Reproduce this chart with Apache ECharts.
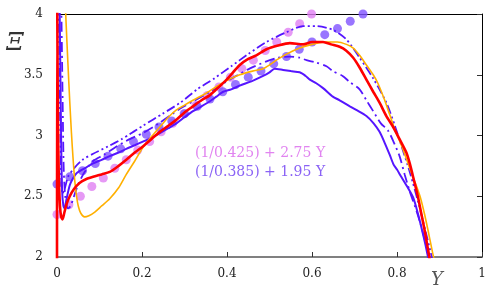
<!DOCTYPE html>
<html>
<head>
<meta charset="utf-8">
<script src="https://cdn.jsdelivr.net/npm/echarts@6/dist/echarts.min.js"></script>
<style>html,body{margin:0;padding:0;background:#fff}#c{width:498px;height:295px}</style>
</head>
<body>
<div id="c"></div>
<script>
var xTicks = [0, 0.2, 0.4, 0.6, 0.8, 1];
var yTicks = [2, 2.5, 3, 3.5, 4];

var redLine = [[0,1.9],[0.0005,4.1],[0.002,3.2],[0.004,2.7],[0.007,2.42],[0.010,2.33],[0.013,2.31],[0.017,2.36],[0.022,2.43],[0.030,2.5],[0.040,2.56],[0.053,2.61],[0.068,2.64],[0.085,2.66],[0.105,2.68],[0.124,2.70],[0.145,2.75],[0.163,2.80],[0.183,2.86],[0.202,2.91],[0.222,2.97],[0.242,3.03],[0.262,3.08],[0.281,3.13],[0.30,3.19],[0.32,3.24],[0.34,3.29],[0.359,3.33],[0.375,3.38],[0.399,3.46],[0.43,3.58],[0.45,3.63],[0.469,3.66],[0.493,3.71],[0.52,3.74],[0.548,3.76],[0.579,3.75],[0.60,3.77],[0.626,3.77],[0.645,3.75],[0.665,3.73],[0.68,3.70],[0.697,3.64],[0.712,3.56],[0.728,3.46],[0.744,3.36],[0.759,3.27],[0.775,3.16],[0.791,3.07],[0.806,2.97],[0.822,2.86],[0.830,2.77],[0.840,2.63],[0.849,2.50],[0.857,2.36],[0.865,2.22],[0.871,2.10],[0.876,2.0],[0.879,1.9]];

var orangeLine = [[0.0195,4.1],[0.0205,4.0],[0.023,3.8],[0.026,3.57],[0.030,3.28],[0.034,3.02],[0.038,2.8],[0.042,2.62],[0.046,2.5],[0.050,2.42],[0.056,2.36],[0.065,2.33],[0.075,2.34],[0.089,2.37],[0.105,2.42],[0.124,2.48],[0.145,2.57],[0.163,2.68],[0.183,2.79],[0.202,2.90],[0.222,2.99],[0.242,3.07],[0.262,3.15],[0.281,3.21],[0.30,3.25],[0.32,3.29],[0.352,3.35],[0.383,3.42],[0.41,3.47],[0.43,3.50],[0.46,3.53],[0.485,3.55],[0.50,3.58],[0.516,3.62],[0.54,3.67],[0.571,3.72],[0.60,3.75],[0.634,3.77],[0.66,3.77],[0.681,3.75],[0.697,3.72],[0.712,3.66],[0.728,3.58],[0.744,3.50],[0.755,3.43],[0.77,3.30],[0.783,3.17],[0.795,3.05],[0.808,2.94],[0.820,2.83],[0.832,2.71],[0.844,2.60],[0.855,2.49],[0.865,2.35],[0.873,2.22],[0.880,2.10],[0.886,2.0],[0.89,1.95]];

var blueSolid = [[0.006,4.1],[0.008,3.5],[0.010,2.9],[0.012,2.55],[0.015,2.42],[0.018,2.4],[0.022,2.47],[0.030,2.59],[0.038,2.65],[0.046,2.69],[0.065,2.73],[0.085,2.77],[0.105,2.80],[0.124,2.83],[0.145,2.86],[0.163,2.89],[0.183,2.92],[0.202,2.95],[0.222,2.98],[0.242,3.02],[0.262,3.06],[0.281,3.10],[0.30,3.15],[0.32,3.20],[0.34,3.24],[0.359,3.28],[0.375,3.32],[0.391,3.36],[0.41,3.38],[0.43,3.41],[0.46,3.45],[0.485,3.49],[0.50,3.52],[0.512,3.55],[0.532,3.54],[0.55,3.53],[0.571,3.52],[0.585,3.49],[0.595,3.46],[0.61,3.43],[0.626,3.39],[0.649,3.32],[0.665,3.29],[0.689,3.24],[0.704,3.21],[0.728,3.16],[0.745,3.10],[0.759,3.03],[0.771,2.94],[0.783,2.84],[0.792,2.76],[0.800,2.72],[0.810,2.66],[0.824,2.58],[0.838,2.49],[0.849,2.36],[0.859,2.22],[0.867,2.10],[0.873,2.0],[0.876,1.95]];

var blueDashDot = [[0.010,4.1],[0.012,3.6],[0.014,3.1],[0.016,2.7],[0.020,2.48],[0.026,2.4],[0.032,2.42],[0.040,2.5],[0.050,2.6],[0.065,2.7],[0.085,2.79],[0.11,2.84],[0.14,2.91],[0.171,2.97],[0.202,3.02],[0.24,3.1],[0.289,3.22],[0.32,3.28],[0.36,3.36],[0.406,3.46],[0.453,3.55],[0.493,3.61],[0.52,3.64],[0.548,3.65],[0.571,3.64],[0.587,3.62],[0.610,3.60],[0.634,3.57],[0.649,3.53],[0.672,3.49],[0.689,3.44],[0.712,3.38],[0.728,3.29],[0.744,3.20],[0.762,3.10],[0.779,3.04],[0.793,2.94],[0.806,2.83],[0.818,2.68],[0.830,2.54],[0.842,2.42],[0.853,2.30],[0.864,2.16],[0.875,2.0],[0.878,1.95]];

var blueDashDotDot = [[0.004,4.1],[0.006,3.5],[0.008,3.0],[0.010,2.65],[0.013,2.52],[0.018,2.56],[0.026,2.66],[0.04,2.73],[0.06,2.8],[0.085,2.85],[0.12,2.91],[0.152,2.97],[0.171,3.01],[0.202,3.08],[0.249,3.18],[0.29,3.27],[0.33,3.38],[0.37,3.47],[0.41,3.57],[0.45,3.67],[0.493,3.77],[0.54,3.85],[0.579,3.90],[0.61,3.90],[0.649,3.87],[0.681,3.79],[0.712,3.64],[0.744,3.47],[0.775,3.27],[0.795,3.08],[0.81,2.92],[0.83,2.70],[0.85,2.45],[0.868,2.2],[0.882,2.0],[0.886,1.95]];

var violetX = [0, 0.028, 0.055, 0.082, 0.109, 0.136, 0.163, 0.19, 0.218, 0.245, 0.272, 0.299, 0.327, 0.354, 0.381, 0.408, 0.435, 0.462, 0.49, 0.517, 0.544, 0.571, 0.599];
var violetY = [2.35, 2.43, 2.50, 2.58, 2.65, 2.73, 2.80, 2.88, 2.95, 3.03, 3.10, 3.18, 3.25, 3.33, 3.40, 3.48, 3.55, 3.62, 3.70, 3.77, 3.85, 3.92, 4.00];
var purpleX = [0, 0.03, 0.06, 0.09, 0.12, 0.15, 0.18, 0.21, 0.24, 0.27, 0.30, 0.33, 0.36, 0.39, 0.42, 0.45, 0.48, 0.51, 0.54, 0.57, 0.60, 0.63, 0.66, 0.69, 0.72];
var purpleY = [2.60, 2.66, 2.71, 2.77, 2.83, 2.89, 2.95, 3.01, 3.07, 3.12, 3.18, 3.24, 3.30, 3.36, 3.42, 3.48, 3.53, 3.59, 3.65, 3.71, 3.77, 3.83, 3.88, 3.94, 4.00];

var yName = 'Ξ';
var xName = 'Y';
var label1 = '(1/0.425) + 2.75 Y';
var label2 = '(1/0.385) + 1.95 Y';

function zip(a, b) { return a.map(function (v, i) { return [v, b[i]]; }); }

var BLUE = '#5515ff';
var FONT = 'DejaVu Serif';
var SM = 0.25;

var chart = echarts.init(document.getElementById('c'), null, {renderer: 'canvas'});
chart.setOption({
  animation: false,
  backgroundColor: '#fff',
  grid: {left: 57, right: 16, top: 14, bottom: 38},
  xAxis: [{
    type: 'value', min: xTicks[0], max: xTicks[xTicks.length - 1], interval: 0.2, position: 'bottom',
    axisLine: {show: true, onZero: false, lineStyle: {color: '#808080', width: 2}},
    axisTick: {show: true, inside: true, length: 5, lineStyle: {color: '#333'}},
    axisLabel: {fontFamily: FONT, fontSize: 12, color: '#222', margin: 11},
    splitLine: {show: false}
  }, {
    type: 'value', min: 0, max: 1, interval: 0.2, position: 'top',
    axisLine: {show: true, onZero: false, lineStyle: {color: '#000', width: 1}},
    axisTick: {show: false}, axisLabel: {show: false}, splitLine: {show: false}
  }],
  yAxis: [{
    type: 'value', min: yTicks[0], max: yTicks[yTicks.length - 1], interval: 0.5, position: 'left',
    axisLine: {show: true, onZero: false, lineStyle: {color: '#808080', width: 1}},
    axisTick: {show: false},
    axisLabel: {fontFamily: FONT, fontSize: 12, color: '#222', margin: 14},
    splitLine: {show: false}
  }, {
    type: 'value', min: 2, max: 4, interval: 0.5, position: 'right',
    axisLine: {show: true, onZero: false, lineStyle: {color: '#000', width: 1}},
    axisTick: {show: true, inside: true, length: 5, lineStyle: {color: '#333'}},
    axisLabel: {show: false}, splitLine: {show: false}
  }],
  graphic: [
    {type: 'text', x: 15, y: 43, z: 100,
     style: {text: yName, font: 'italic 25px ' + FONT, fill: '#333', align: 'center', verticalAlign: 'middle'}},
    {type: 'text', x: 437, y: 280, z: 100,
     style: {text: xName, font: 'italic 18px ' + FONT, fill: '#555', align: 'center', verticalAlign: 'middle'}},
    {type: 'text', x: 195, y: 153, z: 100,
     style: {text: label1, font: '14px ' + FONT, fill: '#e184f0', align: 'left', verticalAlign: 'middle'}},
    {type: 'text', x: 195, y: 172, z: 100,
     style: {text: label2, font: '14px ' + FONT, fill: '#8a62f5', align: 'left', verticalAlign: 'middle'}}
  ],
  series: [
    {type: 'scatter', data: zip(violetX, violetY), symbolSize: 9, clip: true, z: 1,
     itemStyle: {color: '#e07ff2'}},
    {type: 'scatter', data: zip(purpleX, purpleY), symbolSize: 9, clip: true, z: 1,
     itemStyle: {color: '#7f52ff'}},
    {type: 'line', data: blueDashDotDot, showSymbol: false, clip: true, z: 2, smooth: SM,
     lineStyle: {color: BLUE, width: 1.8, type: [9, 3, 2, 3, 2, 3]}},
    {type: 'line', data: blueDashDot, showSymbol: false, clip: true, z: 2, smooth: SM,
     lineStyle: {color: BLUE, width: 1.8, type: [10, 4, 2, 4]}},
    {type: 'line', data: blueSolid, showSymbol: false, clip: true, z: 3, smooth: SM,
     lineStyle: {color: BLUE, width: 2}},
    {type: 'line', data: orangeLine, showSymbol: false, clip: true, z: 4, smooth: SM,
     lineStyle: {color: '#ffb000', width: 1.6}},
    {type: 'line', data: redLine, showSymbol: false, clip: true, z: 5, smooth: SM,
     lineStyle: {color: '#ff0000', width: 2.6}}
  ]
});
</script>
</body>
</html>
